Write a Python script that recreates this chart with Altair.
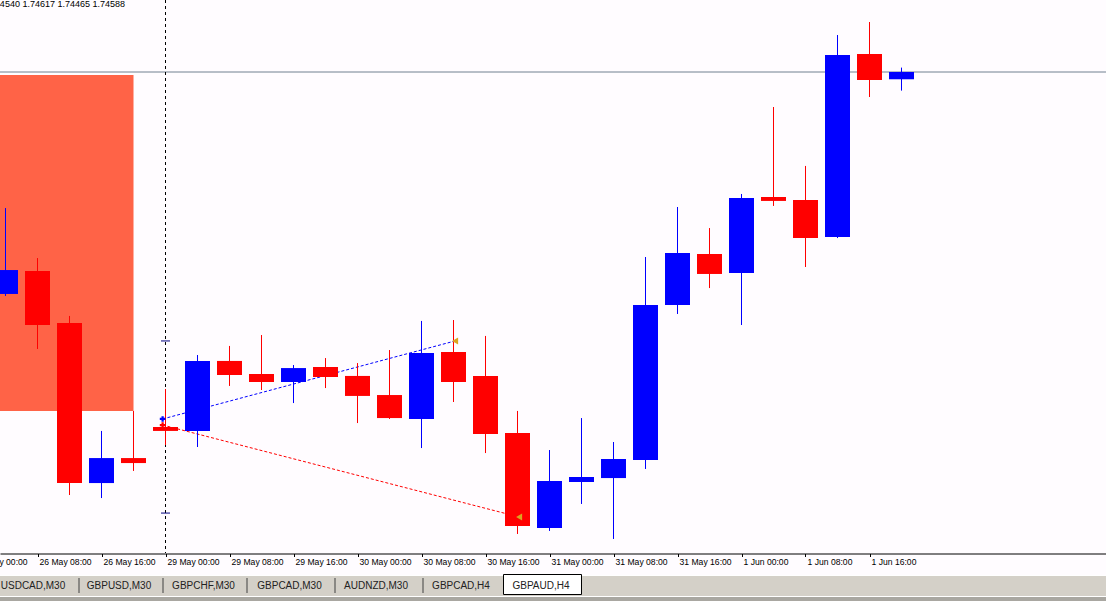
import altair as alt
import pandas as pd

# ---------------- data ----------------
times = ["26 May 04:00", "26 May 08:00", "26 May 12:00", "26 May 16:00", "26 May 20:00",
         "29 May 00:00", "29 May 04:00", "29 May 08:00", "29 May 12:00", "29 May 16:00", "29 May 20:00",
         "30 May 00:00", "30 May 04:00", "30 May 08:00", "30 May 12:00", "30 May 16:00", "30 May 20:00",
         "31 May 00:00", "31 May 04:00", "31 May 08:00", "31 May 12:00", "31 May 16:00", "31 May 20:00",
         "1 Jun 00:00", "1 Jun 04:00", "1 Jun 08:00", "1 Jun 12:00", "1 Jun 16:00", "1 Jun 20:00"]
opens = [1.73123, 1.73275, 1.72931, 1.71875, 1.72040, 1.72245, 1.72219, 1.72681, 1.72595, 1.72542,
         1.72641, 1.72582, 1.72456, 1.72298, 1.72740, 1.72582, 1.72205, 1.71578, 1.71882, 1.71908,
         1.72027, 1.73050, 1.73387, 1.73261, 1.73763, 1.73743, 1.73499, 1.74707, 1.74540]
highs = [1.73690, 1.73360, 1.72978, 1.72219, 1.72351, 1.72496, 1.72720, 1.72780, 1.72852, 1.72654,
         1.72700, 1.72667, 1.72753, 1.72945, 1.72951, 1.72846, 1.72351, 1.72093, 1.72304, 1.72146,
         1.73367, 1.73697, 1.73558, 1.73783, 1.74357, 1.73968, 1.74832, 1.74918, 1.74617]
lows = [1.73110, 1.72760, 1.71796, 1.71776, 1.71955, 1.72126, 1.72113, 1.72516, 1.72489, 1.72403,
        1.72502, 1.72271, 1.72298, 1.72106, 1.72410, 1.72073, 1.71539, 1.71559, 1.71737, 1.71506,
        1.71968, 1.72991, 1.73162, 1.72918, 1.73704, 1.73301, 1.73492, 1.74423, 1.74465]
closes = [1.73281, 1.72918, 1.71875, 1.72040, 1.72007, 1.72219, 1.72681, 1.72588, 1.72542, 1.72634,
          1.72575, 1.72450, 1.72304, 1.72733, 1.72542, 1.72199, 1.71592, 1.71889, 1.71915, 1.72034,
          1.73050, 1.73393, 1.73255, 1.73756, 1.73737, 1.73492, 1.74700, 1.74535, 1.74588]

tick_idx = [-1, 1, 3, 5, 7, 9, 11, 13, 15, 17, 19, 21, 23, 25, 27]
tick_labels = ["26 May 00:00", "26 May 08:00", "26 May 16:00", "29 May 00:00", "29 May 08:00",
               "29 May 16:00", "30 May 00:00", "30 May 08:00", "30 May 16:00", "31 May 00:00",
               "31 May 08:00", "31 May 16:00", "1 Jun 00:00", "1 Jun 08:00", "1 Jun 16:00"]

# zone rectangle (bar index range, price range)
zone_i = [-1, 4]
zone_p = [1.74568, 1.72351]
bid_price = 1.74588
vline_i = 5
vline_marks = [1.72813, 1.71677]

# trades: open/close bar index and price
trade_id = ["buy", "buy", "sell", "sell"]
trade_i = [4.91, 14.05, 4.91, 16.05]
trade_p = [1.72298, 1.72813, 1.72258, 1.71651]

ohlc_text = "GBPAUD,H4  1.74540 1.74617 1.74465 1.74588"

tabs = ["USDCAD,M30", "GBPUSD,M30", "GBPCHF,M30", "GBPCAD,M30", "AUDNZD,M30", "GBPCAD,H4", "GBPAUD,H4"]

# ---------------- layout (pixels) ----------------
W, H = 1106, 553
tab_cx = [33, 119, 203.5, 289.5, 376, 461, 541]
tab_sep = [79, 163, 247, 335, 423]
BG = "#fffcff"
UP, DN = "#0000ff", "#ff0000"

n = len(times)
cdf = pd.DataFrame({"i": list(range(n)), "t": times, "o": opens, "h": highs, "l": lows, "c": closes})
cdf["dir"] = ["up" if c >= o else "down" for o, c in zip(opens, closes)]

xs = alt.Scale(domain=[-0.171875, 34.390625], nice=False, zero=False)
ys = alt.Scale(domain=[1.714134, 1.750632], nice=False, zero=False)
xax = alt.Axis(values=tick_idx, labels=False, ticks=True, tickSize=3, tickColor="#000000",
               domainColor="#000000", grid=False, title=None, offset=0.5)
cscale = alt.Scale(domain=["up", "down"], range=[UP, DN])


def X(f):
    return alt.X(f"{f}:Q", scale=xs, axis=xax)


def Y(f):
    return alt.Y(f"{f}:Q", scale=ys, axis=None)


zone = alt.Chart(pd.DataFrame({"a": [zone_i[0]], "b": [zone_i[1]], "p0": [zone_p[0]], "p1": [zone_p[1]]})).mark_rect(
    color="#ff6347", clip=True).encode(x=X("a"), x2=alt.X2("b"), y=Y("p0"), y2=alt.Y2("p1"))

hline = alt.Chart(pd.DataFrame({"p": [bid_price]})).mark_rule(color="#708090", strokeWidth=1).encode(y=Y("p"))

vline = alt.Chart(pd.DataFrame({"i": [vline_i]})).mark_rule(color="#000000", strokeWidth=1,
                                                              strokeDash=[3, 3]).encode(x=X("i"))

vmarks = alt.Chart(pd.DataFrame({"i": [vline_i] * 2, "p": vline_marks})).mark_tick(
    orient="horizontal", size=9, thickness=1, color="#000080", opacity=1).encode(x=X("i"), y=Y("p"))

tdf = pd.DataFrame({"id": trade_id, "i": trade_i, "p": trade_p})
tlines = alt.Chart(tdf).mark_line(strokeWidth=1, strokeDash=[3, 2]).encode(
    x=X("i"), y=Y("p"), detail="id:N",
    color=alt.Color("id:N", scale=alt.Scale(domain=["buy", "sell"], range=[UP, DN]), legend=None))

wick = alt.Chart(cdf).mark_rule(strokeWidth=1).encode(
    x=X("i"), y=Y("l"), y2=alt.Y2("h"), color=alt.Color("dir:N", scale=cscale, legend=None))

body = alt.Chart(cdf).mark_rect().transform_calculate(
    x0="datum.i - 0.390625", x1="datum.i + 0.390625").encode(
    x=X("x0"), x2=alt.X2("x1"), y=Y("o"), y2=alt.Y2("c"),
    color=alt.Color("dir:N", scale=cscale, legend=None))

open_pts = tdf.iloc[[0, 2]]
close_pts = tdf.iloc[[1, 3]]
open_mk = alt.Chart(open_pts).mark_point(shape="cross", filled=True, size=32, opacity=1).encode(
    x=X("i"), y=Y("p"),
    color=alt.Color("id:N", scale=alt.Scale(domain=["buy", "sell"], range=[UP, DN]), legend=None))
close_mk = alt.Chart(close_pts).mark_point(shape="triangle-left", filled=True, size=48, opacity=1,
                                           color="#daa520").encode(x=X("i"), y=Y("p"))

xlabels = alt.Chart(pd.DataFrame({"i": tick_idx, "lab": tick_labels})).mark_text(
    align="left", baseline="middle", dx=2, fontSize=8.6, font="Liberation Sans",
    color="#000000").encode(x=X("i"), y=alt.value(562), text="lab:N")

ohlc = alt.Chart(pd.DataFrame({"s": [ohlc_text]})).mark_text(
    align="right", baseline="alphabetic", fontSize=9, font="Liberation Sans",
    color="#000000").encode(x=alt.value(125), y=alt.value(6.5), text="s:N")

one = pd.DataFrame({"k": [0]})
tabbar = alt.Chart(one).mark_rect(color="#d4d0c8").encode(
    x=alt.value(0), x2=alt.value(W), y=alt.value(575), y2=alt.value(596))
tabbar_top = alt.Chart(one).mark_rule(color="#ffffff").encode(
    x=alt.value(0), x2=alt.value(W), y=alt.value(575.5))
tabbar_low = alt.Chart(one).mark_rect(color="#a9a7a1").encode(
    x=alt.value(0), x2=alt.value(W), y=alt.value(597), y2=alt.value(601))
tabbar_white = alt.Chart(one).mark_rule(color="#ffffff").encode(
    x=alt.value(0), x2=alt.value(W), y=alt.value(596.5))
seps = alt.Chart(pd.DataFrame({"px": tab_sep})).mark_rule(color="#404040").encode(
    x=alt.X("px:Q", scale=None, axis=None), y=alt.value(578), y2=alt.value(593))
active = alt.Chart(one).mark_rect(fill="#ffffff", stroke="#000000", strokeWidth=1).encode(
    x=alt.value(503.5), x2=alt.value(581.5), y=alt.value(574.5), y2=alt.value(594.5))
tabtext = alt.Chart(pd.DataFrame({"px": tab_cx, "name": tabs})).mark_text(
    align="center", baseline="middle", fontSize=10, font="Liberation Sans", color="#222222").encode(
    x=alt.X("px:Q", scale=None, axis=None), y=alt.value(586), text="name:N")

chart = alt.layer(
    zone, hline, vline, vmarks, tlines, wick, body, open_mk, close_mk, xlabels, ohlc,
    tabbar, tabbar_top, tabbar_low, tabbar_white, seps, active, tabtext
).properties(
    width=W, height=H, autosize="none",
    padding={"left": 0, "top": 0, "right": 0, "bottom": 48},
    background=BG
).configure_view(strokeWidth=0, fill=BG)

chart.save("out.html", embed_options={"renderer": "svg", "actions": False})
